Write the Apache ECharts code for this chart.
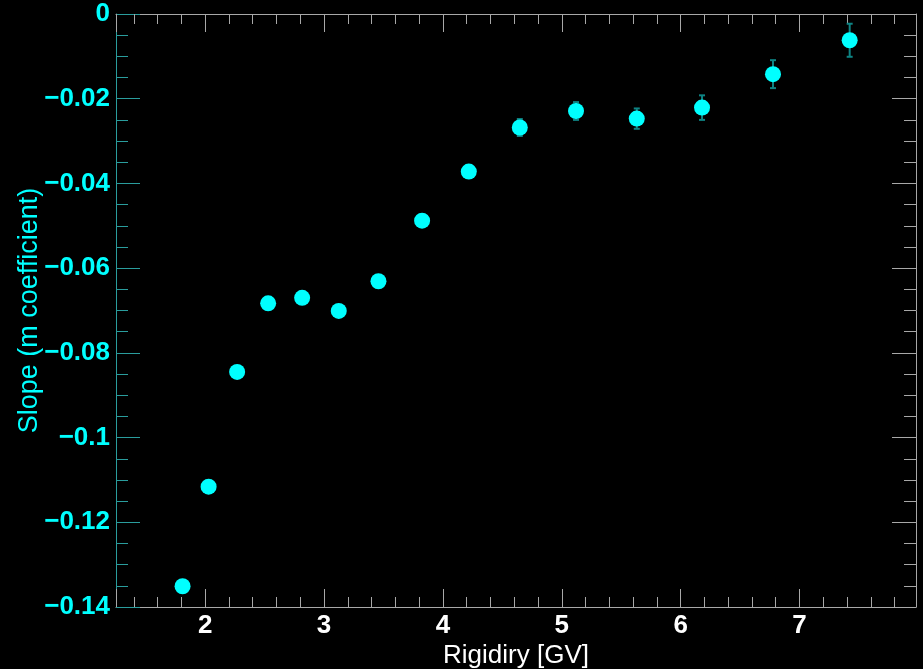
<!DOCTYPE html>
<html>
<head>
<meta charset="utf-8">
<script src="https://cdn.jsdelivr.net/npm/echarts@6/dist/echarts.min.js"></script>
<style>
html,body{margin:0;padding:0;background:#000;}
#chart{width:923px;height:669px;}
</style>
</head>
<body>
<div id="chart"></div>
<script>
// Data
const rigidity = [1.810, 2.029, 2.269, 2.530, 2.816, 3.124, 3.458, 3.825, 4.218, 4.647, 5.120, 5.631, 6.180, 6.777, 7.422];
const slope = [-0.1351, -0.1116, -0.0845, -0.0683, -0.0670, -0.0701, -0.0631, -0.0488, -0.0372, -0.0268, -0.0229, -0.0247, -0.0221, -0.0142, -0.0062];
const slopeErr = [0.0010, 0.0010, 0.0010, 0.0010, 0.0010, 0.0010, 0.0010, 0.0012, 0.0015, 0.0020, 0.0021, 0.0024, 0.0029, 0.0033, 0.0039];
const xTitle = 'Rigidiry [GV]';
const yTitle = 'Slope (m coefficient)';

const CYAN = '#00ffff';
const TEAL = '#2a9d9d';
const ERR = '#0e8484';
const GRAY = '#a8a8a8';
const FONT = '"Liberation Sans", Arial, Helvetica, sans-serif';

const points = rigidity.map((x, i) => [x, slope[i]]);
const bars = rigidity.map((x, i) => [x, slope[i] - slopeErr[i], slope[i] + slopeErr[i]]);

const chart = echarts.init(document.getElementById('chart'), null, {renderer: 'canvas'});

const xCommon = {
  type: 'value', min: 1.25, max: 7.98, splitNumber: 6,
  splitLine: {show: false},
  axisLine: {show: true, onZero: false, lineStyle: {color: GRAY, width: 1}},
  axisTick: {show: true, inside: true, length: 18, lineStyle: {color: GRAY, width: 1}},
  minorTick: {show: true, splitNumber: 5, length: 10, lineStyle: {color: GRAY, width: 1}},
  minorSplitLine: {show: false}
};
const yCommon = {
  type: 'value', min: -0.14, max: 0, interval: 0.02,
  splitLine: {show: false},
  minorSplitLine: {show: false}
};

chart.setOption({
  backgroundColor: '#000',
  animation: false,
  grid: {left: 116, right: 7, top: 14, bottom: 62, containLabel: false, outerBoundsMode: 'none'},
  xAxis: [
    Object.assign({}, xCommon, {
      position: 'bottom',
      axisLabel: {show: true, color: '#fff', fontFamily: FONT, fontWeight: 'bold', fontSize: 26, margin: 6,
                  showMinLabel: false, showMaxLabel: false},
      name: xTitle, nameLocation: 'middle', nameGap: 36, nameMoveOverlap: false,
      nameTextStyle: {color: '#fff', fontFamily: FONT, fontSize: 26}
    }),
    Object.assign({}, xCommon, {
      position: 'top',
      axisLabel: {show: false}
    })
  ],
  yAxis: [
    Object.assign({}, yCommon, {
      position: 'left',
      axisLine: {show: true, onZero: false, lineStyle: {color: TEAL, width: 1}},
      axisTick: {show: true, inside: true, length: 24, lineStyle: {color: TEAL, width: 1}},
      minorTick: {show: true, splitNumber: 4, length: 12, lineStyle: {color: TEAL, width: 1}},
      axisLabel: {show: true, color: CYAN, fontFamily: FONT, fontWeight: 'bold', fontSize: 26, margin: 6,
                  formatter: v => (v === 0 ? '0' : String(+v.toFixed(4)).replace('-', '\u2212'))},
      name: yTitle, nameLocation: 'middle', nameGap: 73, nameRotate: 90, nameMoveOverlap: false,
      nameTextStyle: {color: CYAN, fontFamily: FONT, fontSize: 27}
    }),
    Object.assign({}, yCommon, {
      position: 'right',
      axisLine: {show: true, onZero: false, lineStyle: {color: GRAY, width: 1}},
      axisTick: {show: true, inside: true, length: 24, lineStyle: {color: GRAY, width: 1}},
      minorTick: {show: true, splitNumber: 4, length: 12, lineStyle: {color: GRAY, width: 1}},
      axisLabel: {show: false}
    })
  ],
  series: [
    {
      type: 'custom',
      xAxisIndex: 0, yAxisIndex: 0,
      data: bars,
      z: 1,
      silent: true,
      renderItem: function (params, api) {
        const x = api.value(0);
        const lo = api.coord([x, api.value(1)]);
        const hi = api.coord([x, api.value(2)]);
        const w = 3;
        const st = {stroke: ERR, lineWidth: 2};
        return {
          type: 'group',
          children: [
            {type: 'line', shape: {x1: lo[0], y1: lo[1], x2: hi[0], y2: hi[1]}, style: st},
            {type: 'line', shape: {x1: lo[0] - w, y1: lo[1], x2: lo[0] + w, y2: lo[1]}, style: st},
            {type: 'line', shape: {x1: hi[0] - w, y1: hi[1], x2: hi[0] + w, y2: hi[1]}, style: st}
          ]
        };
      }
    },
    {
      type: 'scatter',
      xAxisIndex: 0, yAxisIndex: 0,
      data: points,
      symbol: 'circle',
      symbolSize: 16,
      itemStyle: {color: CYAN, opacity: 1},
      z: 5
    }
  ]
});
</script>
</body>
</html>
